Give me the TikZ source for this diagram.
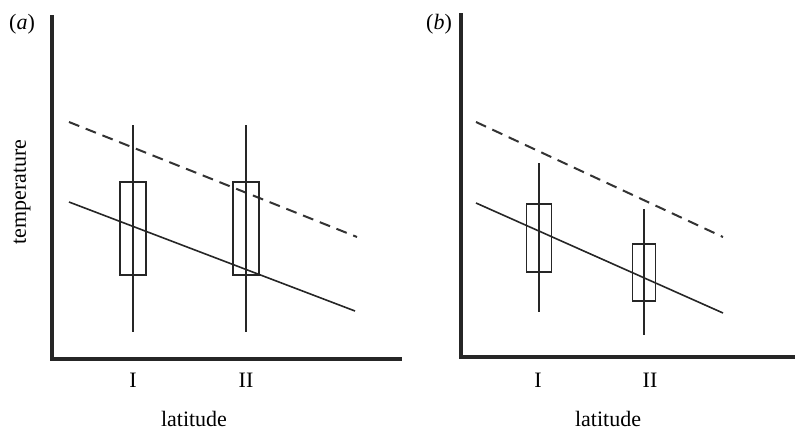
\documentclass[tikz,border=0pt]{standalone}
\usepackage{fontspec}
\setmainfont{Liberation Serif}
\usepackage{tikz}
\usetikzlibrary{positioning, calc}
\tikzset{
	axisline/.style={line width=3.2pt, color=black!85},
	fitline/.style={line width=1.6pt, color=black!85},
	envline/.style={line width=2pt, color=black!80, dash pattern=on 11pt off 7pt},
	databox/.style={line width=1.9pt, color=black!85},
	whisker/.style={line width=1.6pt, color=black!85},
	plottext/.style={font=\fontsize{22}{26}\selectfont, inner sep=0pt}
}
% one box with its whisker: x, half width, box top, box bottom, whisker top, whisker bottom
\newcommand{\boxwhisk}[6]{
	\draw[whisker] (#1,#5) -- (#1,#6);
	\draw[databox] (#1-#2,#3) rectangle (#1+#2,#4);
}

\begin{document}
\begin{tikzpicture}[x=1pt, y=-1pt]
      \useasboundingbox (0,0) rectangle (795,432);
      % panel (a)
      \draw[axisline] (52,15) -- (52,359) -- (402,359);
      \node[plottext] (lbla) at (22,24) {(\textit{a})};
      \node[plottext, rotate=90] (ylab) at (22,192) {temperature};
      \draw[envline] (69,122) -- (357,237);
      \draw[fitline] (69,202) -- (355,311);
      \boxwhisk{133}{13}{182}{275}{125}{332}
      \boxwhisk{246}{13}{182}{275}{125}{332}
      \node[plottext] (tIa) at (133,380) {I};
      \node[plottext] (tIIa) at (246,380) {II};
      \node[plottext] (xlaba) at (194,419) {latitude};
      % panel (b)
      \draw[axisline] (461,13) -- (461,357) -- (797,357);
      \node[plottext] (lblb) at (439,24) {(\textit{b})};
      \draw[envline] (476,122) -- (723,237);
      \draw[fitline] (476,203) -- (723,313);
      \boxwhisk{539}{12.5}{204}{272}{163}{312}
      \boxwhisk{644}{11.5}{244}{301}{209}{335}
      \node[plottext] (tIb) at (538,380) {I};
      \node[plottext] (tIIb) at (650,380) {II};
      \node[plottext] (xlabb) at (608,419) {latitude};
    \end{tikzpicture}
\end{document}
